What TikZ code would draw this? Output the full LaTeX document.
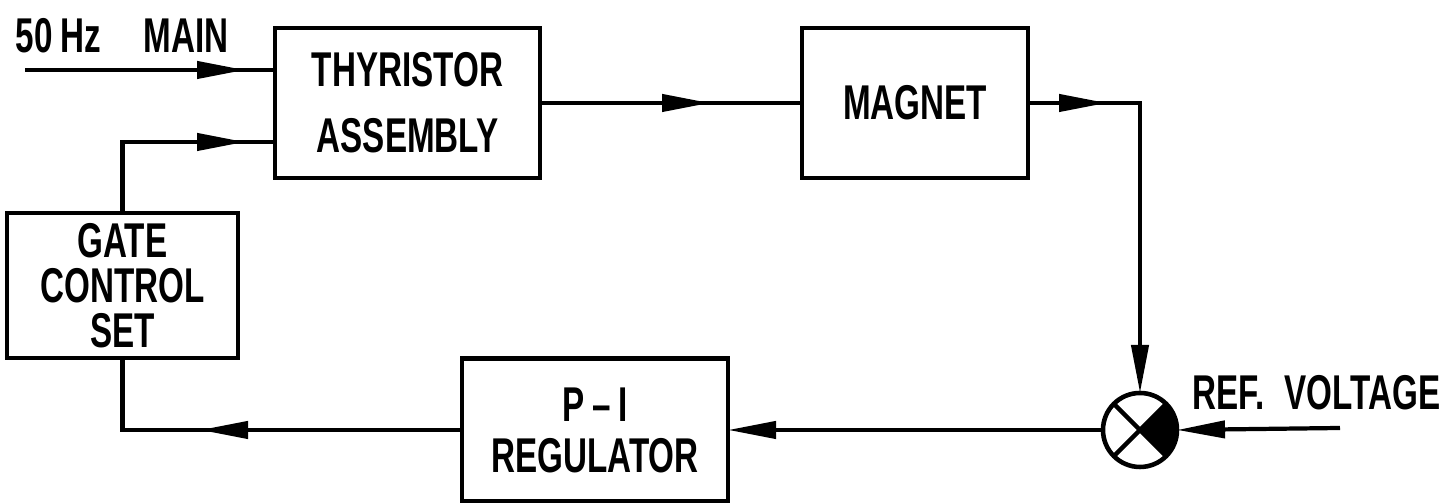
\documentclass[tikz,border=0pt]{standalone}
\usepackage{fontspec}
\newfontfamily\lab[FakeStretch=0.68]{Liberation Sans}
\usetikzlibrary{arrows.meta, positioning, calc, decorations.markings}

\tikzset{
    wedge/.tip={Triangle[length=4.8mm, width=1.7mm]},
    blk/.style={draw, line width=1.3pt, align=center, inner sep=0pt, outer sep=0pt},
    sig/.style={line width=1.2pt},
    midarrow/.style={postaction={decorate}, decoration={markings, mark=at position #1 with {\arrow{wedge}}}}
}

\begin{document}
\begin{tikzpicture}[scale=1]
    \useasboundingbox (0,0) rectangle (14.48,5.03);

    % Blocks
    \node[blk, minimum width=2.65cm, minimum height=1.50cm, font=\lab\bfseries\fontsize{13.9}{18.7}\selectfont] (thy) at (4.075,4.00) {THYRISTOR\\ASSEMBLY};
    \node[blk, minimum width=2.26cm, minimum height=1.50cm, font=\lab\bfseries\fontsize{13.9}{18.7}\selectfont] (mag) at (9.15,4.00) {MAGNET};
    \node[blk, minimum width=2.31cm, minimum height=1.45cm, font=\lab\bfseries\fontsize{13.9}{12.8}\selectfont] (gate) at (1.225,2.175) {GATE\\CONTROL\\SET};
    \node[blk, minimum width=2.66cm, minimum height=1.43cm, font=\lab\bfseries\fontsize{13.9}{14.5}\selectfont] (pireg) at (5.95,0.73) {P\hspace{0.08cm}–\hspace{0.08cm}I\\REGULATOR};

    % Summing point
    \node[draw, circle, line width=1.3pt, minimum size=0.74cm, inner sep=0pt, outer sep=0pt] (sum) at (11.40,0.73) {};
    \fill (sum.center) -- (sum.south east) arc[start angle=-45, end angle=45, radius=0.37cm] -- cycle;
    \draw[line width=1.3pt] (sum.north west) -- (sum.south east);
    \draw[line width=1.3pt] (sum.north east) -- (sum.south west);

    % Labels
    \node[anchor=base west, inner sep=0pt, font=\lab\bfseries\fontsize{13.9}{16}\selectfont] (mainlbl) at (0.15,4.50) {50\,Hz\hspace{0.42cm}MAIN};
    \node[anchor=base west, inner sep=0pt, font=\lab\bfseries\fontsize{13.9}{16}\selectfont] (reflbl) at (11.92,0.93) {REF.\hspace{0.2cm}VOLTAGE};

    % Free ends
    \coordinate (mainin) at (0.25,4.33);
    \coordinate (refin) at (13.40,0.75);

    % Signal paths
    \draw[sig, midarrow=-0.30cm] (mainin) -- (mainin -| thy.west);
    \draw[sig, midarrow=-0.30cm] (gate.north) |- ($(thy.west)+(0,-0.39)$);
    \draw[sig, midarrow=-0.92cm] (thy.east) -- (mag.west);
    \draw[sig, midarrow=0.79cm, -{wedge}] (mag.east) -| (sum.north);
    \draw[sig, -{wedge}] (refin) -- (sum.east);
    \draw[sig, -{wedge}] (sum.west) -- (pireg.east);
    \draw[sig, midarrow=2.62cm] (pireg.west) -| (gate.south);
\end{tikzpicture}
\end{document}
